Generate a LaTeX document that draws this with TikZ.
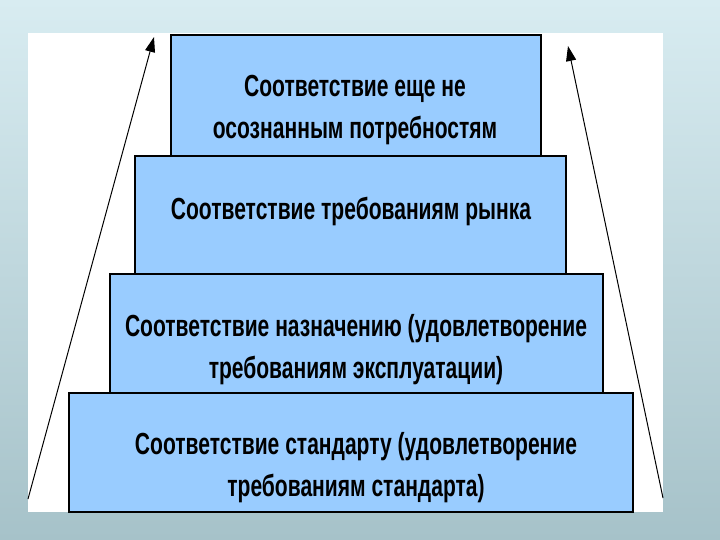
\documentclass[tikz,border=0pt]{standalone}
\usepackage{fontspec}
\setmainfont{Liberation Sans}[FakeStretch=0.69]
\usetikzlibrary{arrows.meta,positioning}

\definecolor{tierblue}{RGB}{153,204,255}
\definecolor{bgtop}{RGB}{216,236,241}
\definecolor{bgbottom}{RGB}{166,194,201}

\begin{document}
\begin{tikzpicture}[x=1pt,y=-1pt,
  tier/.style={draw=black,line width=1.6pt,fill=tierblue,inner sep=0pt,anchor=north west},
  tiertext/.style={font=\bfseries\fontsize{30.5}{42}\selectfont,align=center,inner sep=0pt},
  rise/.style={line width=1pt,-{Triangle[length=15pt,width=10pt]}}]
  % Slide background
  \shade[top color=bgtop,bottom color=bgbottom] (0,0) rectangle (720,540);
  \useasboundingbox (0,0) rectangle (720,540);
  \fill[white] (28,33) rectangle (663,512);

  % Tiers, top to bottom
  \node[tier,minimum width=370pt,minimum height=121pt] (t1) at (170,34) {};
  \node[tier,minimum width=431pt,minimum height=118pt] (t2) at (134,155) {};
  \node[tier,minimum width=493pt,minimum height=119pt] (t3) at (109,273) {};
  \node[tier,minimum width=564pt,minimum height=119pt] (t4) at (68,392) {};

  \node[tiertext] (l1) at (355,110) {Соответствие еще не\\осознанным потребностям};
  \node[tiertext] (l2) at (351,211) {Соответствие требованиям рынка};
  \node[tiertext] (l3) at (356,350) {Соответствие назначению (удовлетворение\\требованиям эксплуатации)};
  \node[tiertext] (l4) at (356,468) {Соответствие стандарту (удовлетворение\\требованиям стандарта)};

  % Side arrows
  \coordinate (lfoot) at (28,499);
  \coordinate (lhead) at (154,37);
  \coordinate (rfoot) at (663,498);
  \coordinate (rhead) at (568,46);
  \draw[rise] (lfoot) -- (lhead);
  \draw[rise] (rfoot) -- (rhead);
\end{tikzpicture}
\end{document}
